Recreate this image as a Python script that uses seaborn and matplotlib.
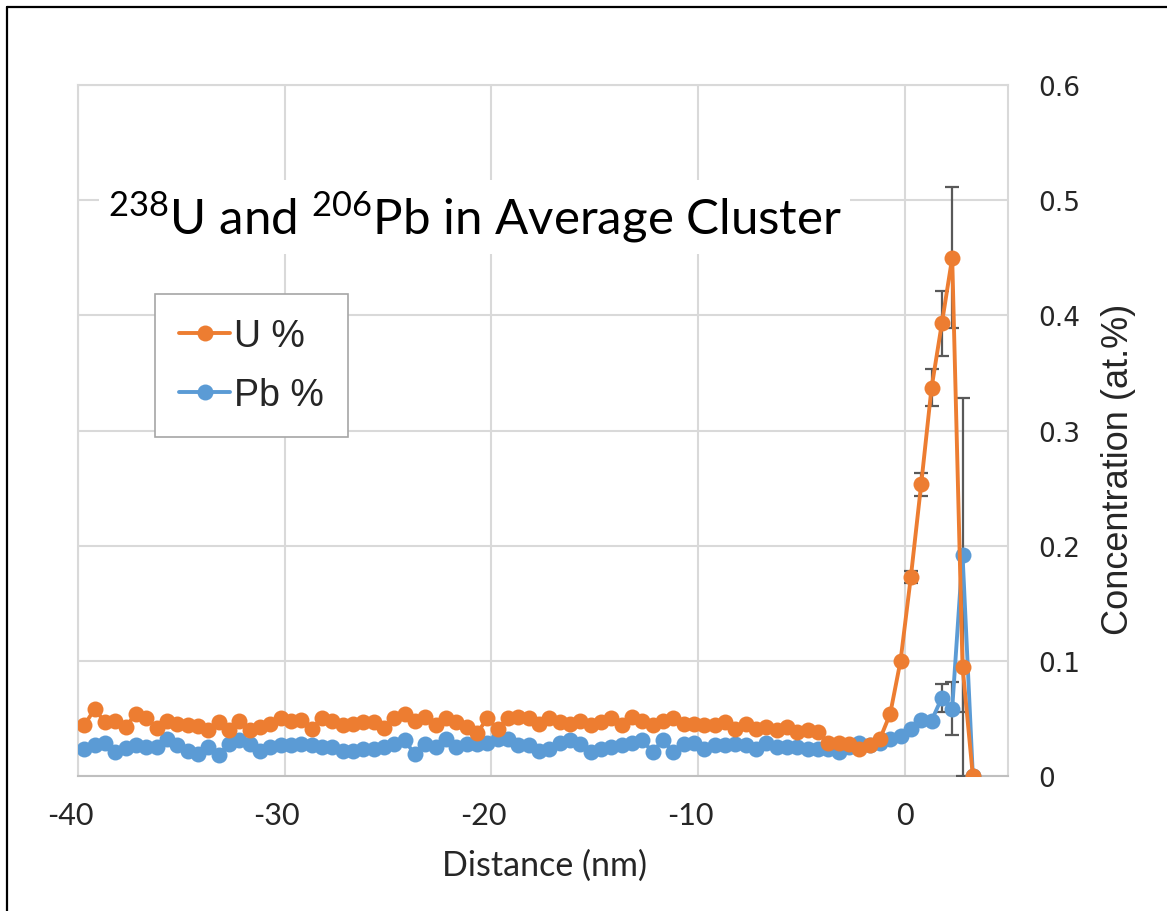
import numpy as np
import matplotlib
matplotlib.use("Agg")
import matplotlib.pyplot as plt
import matplotlib.transforms as mtransforms
import seaborn as sns
from matplotlib.lines import Line2D

# Distance from the cluster interface (nm)
distance = [
    -39.7, -39.2, -38.7, -38.2, -37.7, -37.2, -36.7, -36.2, -35.7, -35.2,
    -34.7, -34.2, -33.7, -33.2, -32.7, -32.2, -31.7, -31.2, -30.7, -30.2,
    -29.7, -29.2, -28.7, -28.2, -27.7, -27.2, -26.7, -26.2, -25.7, -25.2,
    -24.7, -24.2, -23.7, -23.2, -22.7, -22.2, -21.7, -21.2, -20.7, -20.2,
    -19.7, -19.2, -18.7, -18.2, -17.7, -17.2, -16.7, -16.2, -15.7, -15.2,
    -14.7, -14.2, -13.7, -13.2, -12.7, -12.2, -11.7, -11.2, -10.7, -10.2,
    -9.7, -9.2, -8.7, -8.2, -7.7, -7.2, -6.7, -6.2, -5.7, -5.2,
    -4.7, -4.2, -3.7, -3.2, -2.7, -2.2, -1.7, -1.2, -0.7, -0.2,
    0.3, 0.8, 1.3, 1.8, 2.3, 2.8, 3.3,
]

# U concentration (at.%)
u_pct = [
    0.044, 0.058, 0.047, 0.048, 0.0425, 0.054, 0.050, 0.042, 0.048, 0.045,
    0.0445, 0.043, 0.040, 0.047, 0.040, 0.048, 0.040, 0.0425, 0.045, 0.050,
    0.048, 0.049, 0.041, 0.050, 0.048, 0.044, 0.045, 0.047, 0.047, 0.042,
    0.050, 0.054, 0.048, 0.051, 0.044, 0.050, 0.047, 0.0425,
    0.037, 0.050, 0.041, 0.050, 0.051, 0.050, 0.045, 0.050, 0.047, 0.045,
    0.048, 0.044, 0.047, 0.050, 0.044, 0.051, 0.048, 0.044, 0.048, 0.050,
    0.045, 0.045, 0.044, 0.044, 0.047, 0.041, 0.045, 0.041, 0.0425, 0.040,
    0.0425, 0.038, 0.040, 0.038, 0.029, 0.029, 0.028, 0.0236,
    0.0265, 0.032, 0.054, 0.100, 0.173, 0.2535, 0.337, 0.393, 0.450, 0.095, 0.0,
]

# Pb concentration (at.%)
pb_pct = [
    0.0236, 0.0265, 0.029, 0.021, 0.024, 0.0265, 0.025, 0.025, 0.032, 0.0265,
    0.022, 0.019, 0.025, 0.018, 0.028, 0.031, 0.028, 0.022, 0.025, 0.0265,
    0.0265, 0.028, 0.0265, 0.025, 0.025, 0.022, 0.022, 0.0236, 0.0236, 0.025,
    0.028, 0.031, 0.019, 0.028, 0.025, 0.032, 0.025, 0.028,
    0.028, 0.029, 0.032, 0.032, 0.0265, 0.0265, 0.022, 0.0236, 0.029, 0.031,
    0.028, 0.021, 0.0236, 0.025, 0.0265, 0.029, 0.031, 0.021, 0.031, 0.021,
    0.028, 0.029, 0.0236, 0.0265, 0.0265, 0.028, 0.0265, 0.0236, 0.029, 0.025,
    0.025, 0.025, 0.0236, 0.0236, 0.0236, 0.021, 0.025, 0.029,
    0.027, 0.029, 0.032, 0.035, 0.041, 0.049, 0.048, 0.068, 0.0585, 0.192, 0.0,
]

# Error bars exist only for the points inside the cluster
u_err_x = [0.3, 0.8, 1.3, 1.8, 2.3, 2.8]
u_err_y = [0.173, 0.2535, 0.337, 0.393, 0.450, 0.095]
u_err = [0.005, 0.010, 0.016, 0.028, 0.061, 0.095]

pb_err_x = [1.3, 1.8, 2.3, 2.8]
pb_err_y = [0.048, 0.068, 0.0585, 0.192]
pb_err = [0.002, 0.012, 0.023, 0.136]

x_ticks = [-40, -30, -20, -10, 0]
y_ticks = [0, 0.1, 0.2, 0.3, 0.4, 0.5, 0.6]
y_tick_labels = ["0", "0.1", "0.2", "0.3", "0.4", "0.5", "0.6"]

ORANGE = "#ED7D31"
BLUE = "#5B9BD5"
GRID = "#D9D9D9"
ERR = "#595959"

sns.set_theme(style="white")
plt.rcParams["font.family"] = ["Lato", "DejaVu Sans"]
plt.rcParams["mathtext.fontset"] = "custom"
plt.rcParams["mathtext.rm"] = "Lato"
plt.rcParams["axes.unicode_minus"] = False

fig = plt.figure(figsize=(11.67, 9.12), dpi=100)
ax = fig.add_axes([78 / 1167, 1 - 777 / 912, 930 / 1167, 691 / 912])

line_kw = dict(marker="o", markersize=11.5, linewidth=2.8, markeredgewidth=0, sort=False)
sns.lineplot(x=distance, y=pb_pct, color=BLUE, ax=ax, label="Pb %", zorder=3, **line_kw)
sns.lineplot(x=distance, y=u_pct, color=ORANGE, ax=ax, label="U %", zorder=4, **line_kw)

eb_kw = dict(fmt="none", ecolor=ERR, elinewidth=1.6, capsize=5, capthick=1.6)
ax.errorbar(pb_err_x, pb_err_y, yerr=pb_err, zorder=2.5, **eb_kw)
ax.errorbar(u_err_x, u_err_y, yerr=u_err, zorder=2.6, **eb_kw)

ax.set_xlim(-40, 5)
ax.set_ylim(0, 0.6)
ax.set_xticks(x_ticks)
ax.set_yticks(y_ticks)
ax.set_yticklabels(y_tick_labels, fontfamily="DejaVu Sans", fontsize=19)
ax.yaxis.tick_right()
ax.yaxis.set_label_position("right")
ax.tick_params(axis="y", length=0, pad=22)
ax.tick_params(axis="x", length=0, pad=18, labelsize=22)
for lbl in ax.get_yticklabels():
    lbl.set_horizontalalignment("left")
# negative labels sit with their digits centred under the gridline
shift = mtransforms.ScaledTranslation(-8 / 100, 0, fig.dpi_scale_trans)
for lbl, val in zip(ax.get_xticklabels(), x_ticks):
    if val < 0:
        lbl.set_transform(lbl.get_transform() + shift)

ax.grid(True, color=GRID, linewidth=1.5)
ax.set_axisbelow(True)
for side in ["left", "right", "top"]:
    ax.spines[side].set_color(GRID)
    ax.spines[side].set_linewidth(1.5)
ax.spines["bottom"].set_color("#BFBFBF")
ax.spines["bottom"].set_linewidth(1.5)

ax.set_xlabel("Distance (nm)", fontsize=24.5)
ax.xaxis.set_label_coords(0.502, -0.105)
ax.set_ylabel("Concentration (at.%)", fontsize=26, fontfamily="Liberation Sans")
ax.yaxis.set_label_coords(1.10, 0.445)

ax.text(0.032, 0.809, r"$^{\mathregular{238}}$U and $^{\mathregular{206}}$Pb in Average Cluster",
        transform=ax.transAxes, fontsize=35.5, va="center", ha="left", color="black",
        bbox=dict(facecolor="white", edgecolor="none", pad=6), zorder=5)

handles, labels = ax.get_legend_handles_labels()
order = [labels.index("U %"), labels.index("Pb %")]
leg = ax.legend([handles[i] for i in order], [labels[i] for i in order],
                loc="upper left", bbox_to_anchor=((155 - 78) / 930, (777 - 295) / 691),
                borderaxespad=0, frameon=True, fancybox=False, framealpha=1,
                edgecolor="#A6A6A6", prop={"family": "Liberation Sans", "size": 27},
                handlelength=1.35, handletextpad=0.1, labelspacing=0.6,
                borderpad=0.65)
leg.get_frame().set_linewidth(1.2)
leg.set_zorder(6)

# outer frame of the figure
fig.add_artist(Line2D([7 / 1167, 7 / 1167], [0, 1 - 8 / 912], transform=fig.transFigure,
                      color="black", linewidth=1.6))
fig.add_artist(Line2D([7 / 1167, 1], [1 - 8 / 912, 1 - 8 / 912], transform=fig.transFigure,
                      color="black", linewidth=1.6))

fig.savefig("out.png", dpi=100)
